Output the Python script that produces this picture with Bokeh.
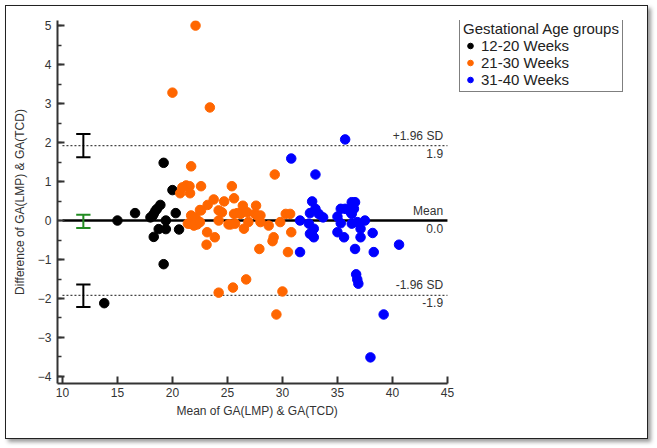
from bokeh.plotting import figure
from bokeh.models import SingleIntervalTicker, Legend, LegendItem, Title
from bokeh.core.properties import value
from bokeh.embed import file_html
from bokeh.resources import INLINE

# ---- data ----
g1_x = [13.8, 15.0, 16.6, 18.0, 18.3, 18.45, 18.6, 18.9, 18.2, 19.2, 20.0, 20.3, 19.4, 18.75, 19.4, 20.6, 18.3, 19.2]
g1_y = [-2.12, 0.0, 0.19, 0.08, 0.17, 0.25, 0.30, 0.40, 0.12, 1.48, 0.78, 0.19, 0.0, -0.22, -0.22, -0.23, -0.42, -1.12]

g2_x = [22.1, 20.0, 23.4, 21.7, 21.25, 21.55, 21.6, 20.7, 22.6, 25.4, 23.2, 22.6, 23.75, 24.7, 24.2, 24.5,
        21.7, 22.1, 21.6, 22.25, 23.15, 23.85, 23.1, 24.2, 25.1, 29.3, 25.6, 26.4, 27.6, 25.6, 26.2, 26.8,
        27.5, 28.0, 25.7, 26.5, 26.9, 28.75, 29.8, 30.3, 30.7, 29.2, 29.1, 27.9, 30.8, 30.5, 24.2, 25.5,
        26.7, 30.0, 29.45, 21.4, 21.95, 22.5, 25.3, 25.9, 27.7, 28.0, 22.5, 20.9]
g2_y = [5.0, 3.28, 2.9, 1.39, 0.9, 0.88, 0.7, 0.7, 0.88, 0.88, 0.4, 0.26, 0.54, 0.49, 0.26, 0.21,
        0.13, 0.08, -0.08, -0.1, -0.3, -0.43, -0.62, 0.0, -0.1, 1.18, 0.57, 0.38, 0.38, 0.17, 0.17, 0.21,
        0.17, 0.13, -0.08, -0.21, -0.04, -0.13, -0.04, 0.17, 0.17, -0.43, -0.53, -0.73, -0.3, -0.81, -1.85, -1.72,
        -1.51, -1.82, -2.41, -0.08, -0.13, -0.04, -0.1, 0.19, 0.13, -0.04, 0.27, 0.85]

g3_x = [35.7, 30.8, 33.0, 32.7, 36.6, 33.0, 32.5, 33.3, 33.7, 31.6, 32.4, 32.85, 32.5, 32.85, 35.3, 35.7,
        36.3, 36.2, 35.0, 35.3, 35.0, 35.6, 36.3, 36.5, 36.3, 36.8, 37.5, 37.1, 38.2, 37.1, 36.6, 38.3,
        40.6, 31.6, 36.7, 36.8, 36.9, 39.2, 38.0]
g3_y = [2.08, 1.59, 1.18, 0.49, 0.47, 0.30, 0.19, 0.17, 0.08, 0.0, -0.08, -0.21, -0.34, -0.43, 0.30, 0.30,
        0.47, 0.21, 0.10, -0.07, -0.30, -0.43, -0.08, 0.30, 0.17, -0.04, 0.0, -0.21, -0.32, -0.43, -0.73, -0.81,
        -0.62, -0.81, -1.38, -1.51, -1.62, -2.41, -3.51]

groups = ["12-20 Weeks", "21-30 Weeks", "31-40 Weeks"]
colors = ["#000000", "#FF6600", "#0000FF"]

mean_diff = 0.0
upper_loa = 1.92
lower_loa = -1.92
ref_values = [upper_loa, mean_diff, lower_loa]
ref_names = ["+1.96 SD", "Mean", "-1.96 SD"]
ref_value_labels = ["1.9", "0.0", "-1.9"]

ci_x = 11.9
ci_low = [1.62, -0.19, -2.22]
ci_high = [2.22, 0.15, -1.64]
ci_colors = ["#000000", "#228B22", "#000000"]

x_start, x_end = 10, 45
x_axis_start = 9.55
y_axis = (-4.18, 5.13)

x_title = "Mean of GA(LMP) & GA(TCD)"
y_title = "Difference of GA(LMP) & GA(TCD)"

FONT = "Liberation Sans"

# frame spans to the right edge so the legend (drawn inside the frame) fits; axis line limited by bounds
p = figure(width=643, height=434, x_range=(x_axis_start, x_axis_start + 592 / 11.0), y_range=y_axis,
           output_backend="svg", toolbar_location=None,
           min_border_left=51, min_border_right=0, min_border_top=14, min_border_bottom=57)
p.styles = {"margin": "5px 0 0 5px", "border": "1px solid #222", "box-shadow": "3px 3px 4px #999"}
p.outline_line_color = None
p.xgrid.visible = False
p.ygrid.visible = False
p.background_fill_color = "white"
p.border_fill_color = "white"

# reference lines
p.line([x_start, x_end], [mean_diff, mean_diff], line_color="black", line_width=2.5)
for v in [upper_loa, lower_loa]:
    p.line([x_start, x_end], [v, v], line_color="#444444", line_width=1.2, line_dash="2 2")

# CI bars
for lo, hi, c in zip(ci_low, ci_high, ci_colors):
    p.segment(x0=[ci_x], y0=[lo], x1=[ci_x], y1=[hi], line_color=c, line_width=2)
    p.segment(x0=[ci_x - 0.65, ci_x - 0.65], y0=[lo, hi], x1=[ci_x + 0.65, ci_x + 0.65], y1=[lo, hi],
              line_color=c, line_width=2)

# points
items = []
for xs, ys, name, c in zip([g1_x, g2_x, g3_x], [g1_y, g2_y, g3_y], groups, colors):
    r = p.scatter(xs, ys, size=9.5, fill_color=c, line_color=c)
    items.append(LegendItem(label=name, renderers=[r]))

# labels for reference lines
lab_x = [44.6] * 3
p.text(x=lab_x, y=ref_values, text=ref_names, text_align="right", text_baseline="bottom",
       y_offset=-3, text_font=value(FONT), text_font_size="12px", text_color="#333333")
p.text(x=lab_x, y=ref_values, text=ref_value_labels, text_align="right", text_baseline="top",
       y_offset=3, text_font=value(FONT), text_font_size="12px", text_color="#333333")

# axes
p.xaxis.ticker = SingleIntervalTicker(interval=5, num_minor_ticks=0)
p.yaxis.ticker = SingleIntervalTicker(interval=1, num_minor_ticks=2)
p.xaxis.bounds = (x_axis_start, x_end)
for ax in [p.xaxis[0], p.yaxis[0]]:
    ax.axis_line_width = 2
    ax.axis_line_color = "#333333"
    ax.major_tick_in = 7
    ax.major_tick_out = 0
    ax.major_tick_line_width = 2
    ax.major_tick_line_color = "#333333"
    ax.minor_tick_in = 4
    ax.minor_tick_out = 0
    ax.minor_tick_line_width = 1.5
    ax.minor_tick_line_color = "#333333"
    ax.major_label_text_font = FONT
    ax.major_label_text_font_size = "12px"
    ax.major_label_text_color = "#333333"
    ax.axis_label_text_font = FONT
    ax.axis_label_text_font_size = "12px"
    ax.axis_label_text_font_style = "normal"
    ax.axis_label_text_color = "#333333"
p.xaxis.minor_tick_line_color = None
p.yaxis.axis_label = y_title
p.yaxis.axis_label_standoff = 8
p.xaxis.major_label_standoff = 4
p.yaxis.major_label_standoff = 6

# x-axis title placed under the bounded part of the axis
xt = Title(text=x_title, align="left", offset=119, text_font=FONT, text_font_size="12px",
           text_font_style="normal", text_color="#333333", standoff=4)
p.add_layout(xt, "below")

# legend
lg = Legend(items=items)
lg.title = "Gestational Age groups"
lg.title_text_font = FONT
lg.title_text_font_size = "15px"
lg.title_text_font_style = "normal"
lg.title_text_color = "#222222"
lg.title_standoff = 0
lg.label_text_font = FONT
lg.label_text_font_size = "15px"
lg.label_text_color = "#222222"
lg.label_height = 15
lg.glyph_height = 15
lg.glyph_width = 14
lg.label_standoff = 4
lg.spacing = 0
lg.padding = 3
lg.margin = 0
lg.border_line_color = "black"
lg.border_line_width = 1.5
lg.background_fill_alpha = 1
lg.location = (402, 291)
p.add_layout(lg, "center")

open("out.html", "w").write(file_html(p, INLINE))
